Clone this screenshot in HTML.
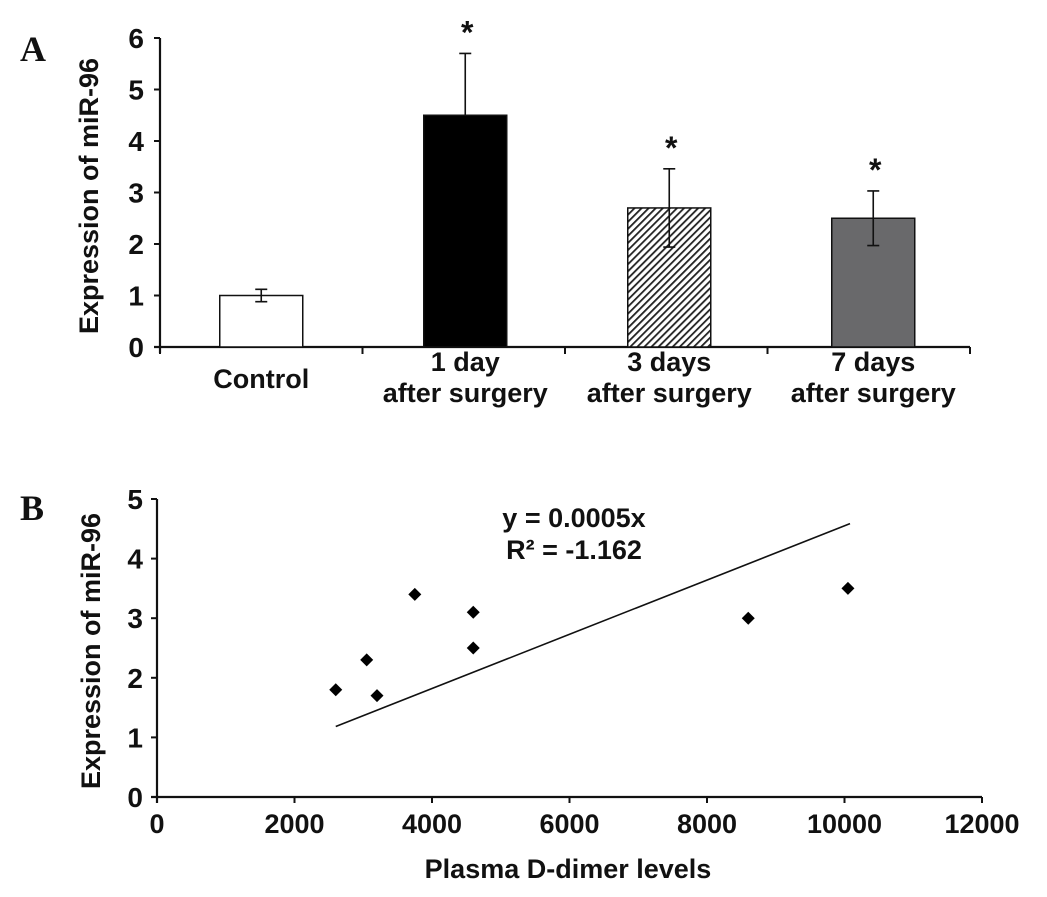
<!DOCTYPE html>
<html><head><meta charset="utf-8"><style>
body{margin:0;background:#fff;}
svg text{font-family:"Liberation Sans",Arial,sans-serif;font-weight:bold;fill:#111;}
</style></head><body>
<svg width="1047" height="892" viewBox="0 0 1047 892">
<defs>
<pattern id="hatch" width="5" height="5" patternUnits="userSpaceOnUse" patternTransform="rotate(45)">
<rect width="5" height="5" fill="#fff"/><rect x="0" y="0" width="1.8" height="5" fill="#222"/>
</pattern>
</defs>
<text x="20" y="61" style="font-family:'Liberation Serif',serif;font-size:36px">A</text>
<text x="20" y="520" style="font-family:'Liberation Serif',serif;font-size:36px">B</text>
<g id="chartA"></g>
<g id="chartB"></g>
</svg>
<script>
const categories=[["Control"],["1 day","after surgery"],["3 days","after surgery"],["7 days","after surgery"]];
const barValues=[1.0,4.5,2.7,2.5];
const errUp=[0.12,1.2,0.76,0.53];
const errDown=[0.12,0.0,0.76,0.53];
const barFills=["#fff","#000","url(#hatch)","#69696b"];
const yTicksA=[0,1,2,3,4,5,6];
const showStar=[false,true,true,true];

const xVals=[2600,3050,3200,3750,4600,4600,8600,10050];
const yVals=[1.8,2.3,1.7,3.4,3.1,2.5,3.0,3.5];
const xTicksB=[0,2000,4000,6000,8000,10000,12000];
const yTicksB=[0,1,2,3,4,5];
const trendSlope=0.000455;
const trendRange=[2600,10080];

const NS="http://www.w3.org/2000/svg";
function mk(parent,tag,attrs,text){const e=document.createElementNS(NS,tag);for(const k in attrs)e.setAttribute(k,attrs[k]);if(text!==undefined)e.textContent=text;parent.appendChild(e);return e;}

// Chart A
const A=document.getElementById('chartA');
const ax0=160,ax1=970,ay0=347,ayTop=38;
const yA=v=>ay0-(v/6)*(ay0-ayTop);
const catW=(ax1-ax0)/categories.length;
const xA=i=>ax0+catW*(i+0.5)+1.5*i;
let e=mk(A,'line',{x1:ax0,y1:ayTop,x2:ax0,y2:ay0+6,stroke:'#111','stroke-width':2.2});


e=mk(A,'line',{x1:ax0-6,y1:ay0,x2:ax1,y2:ay0,stroke:'#111','stroke-width':2.2});


yTicksA.forEach(t=>{
 mk(A,'line',{x1:ax0-6,y1:yA(t),x2:ax0,y2:yA(t),stroke:'#111','stroke-width':2});
 e=mk(A,'text',{x:ax0-16,y:yA(t)+10,'text-anchor':'end','font-size':28},t);
 
 
});
for(let i=0;i<=categories.length;i++){mk(A,'line',{x1:ax0+catW*i,y1:ay0,x2:ax0+catW*i,y2:ay0+7,stroke:'#111','stroke-width':2});}
categories.forEach((c,i)=>{
 const cx=xA(i),bw=83,top=yA(barValues[i]);
 e=mk(A,'rect',{x:cx-bw/2,y:top,width:bw,height:ay0-top,fill:barFills[i],stroke:'#111','stroke-width':1.5});
 
 
 const et=yA(barValues[i]+errUp[i]),eb=yA(barValues[i]-errDown[i]);
 e=mk(A,'path',{d:`M${cx} ${et}V${eb}M${cx-6} ${et}H${cx+6}M${cx-6} ${eb}H${cx+6}`,stroke:'#111','stroke-width':1.6,fill:'none'});
 
 
 if(showStar[i]){e=mk(A,'text',{x:cx+2,y:et-10,'text-anchor':'middle','font-size':32},'*');
 
 }
 c.forEach((ln,j)=>{
  e=mk(A,'text',{x:cx,y:(c.length===1?388:371+j*31),'text-anchor':'middle','font-size':27},ln);
  
  
 });
});
e=mk(A,'text',{x:0,y:0,'text-anchor':'middle','font-size':27,transform:`translate(98,196) rotate(-90)`},'Expression of miR-96');



// Chart B
const B=document.getElementById('chartB');
const bx0=157,bx1=982,by0=797,byTop=499;
const xB=v=>bx0+v/12000*(bx1-bx0);
const yB=v=>by0-v/5*(by0-byTop);
e=mk(B,'line',{x1:bx0,y1:byTop,x2:bx0,y2:by0+6,stroke:'#111','stroke-width':2.2});


e=mk(B,'line',{x1:bx0-6,y1:by0,x2:bx1,y2:by0,stroke:'#111','stroke-width':2.2});


yTicksB.forEach(t=>{
 mk(B,'line',{x1:bx0-6,y1:yB(t),x2:bx0,y2:yB(t),stroke:'#111','stroke-width':2});
 e=mk(B,'text',{x:bx0-14,y:yB(t)+10,'text-anchor':'end','font-size':28},t);
 
 
});
xTicksB.forEach(t=>{
 mk(B,'line',{x1:xB(t),y1:by0,x2:xB(t),y2:by0+6,stroke:'#111','stroke-width':2});
 e=mk(B,'text',{x:xB(t),y:by0+36,'text-anchor':'middle','font-size':27},t);
 
 
});
e=mk(B,'line',{x1:xB(trendRange[0]),y1:yB(trendSlope*trendRange[0]),x2:xB(trendRange[1]),y2:yB(trendSlope*trendRange[1]),stroke:'#111','stroke-width':1.6});


xVals.forEach((xv,i)=>{
 const cx=xB(xv),cy=yB(yVals[i]),r=6.5;
 e=mk(B,'path',{d:`M${cx} ${cy-r}L${cx+r} ${cy}L${cx} ${cy+r}L${cx-r} ${cy}Z`,fill:'#000'});
 
 
});
e=mk(B,'text',{x:574,y:527,'text-anchor':'middle','font-size':27},'y = 0.0005x');


e=mk(B,'text',{x:574,y:559,'text-anchor':'middle','font-size':27},'R² = -1.162');


e=mk(B,'text',{x:568,y:878,'text-anchor':'middle','font-size':27},'Plasma D-dimer levels');


e=mk(B,'text',{x:0,y:0,'text-anchor':'middle','font-size':27,transform:`translate(100,651) rotate(-90)`},'Expression of miR-96');


</script>
</body></html>
